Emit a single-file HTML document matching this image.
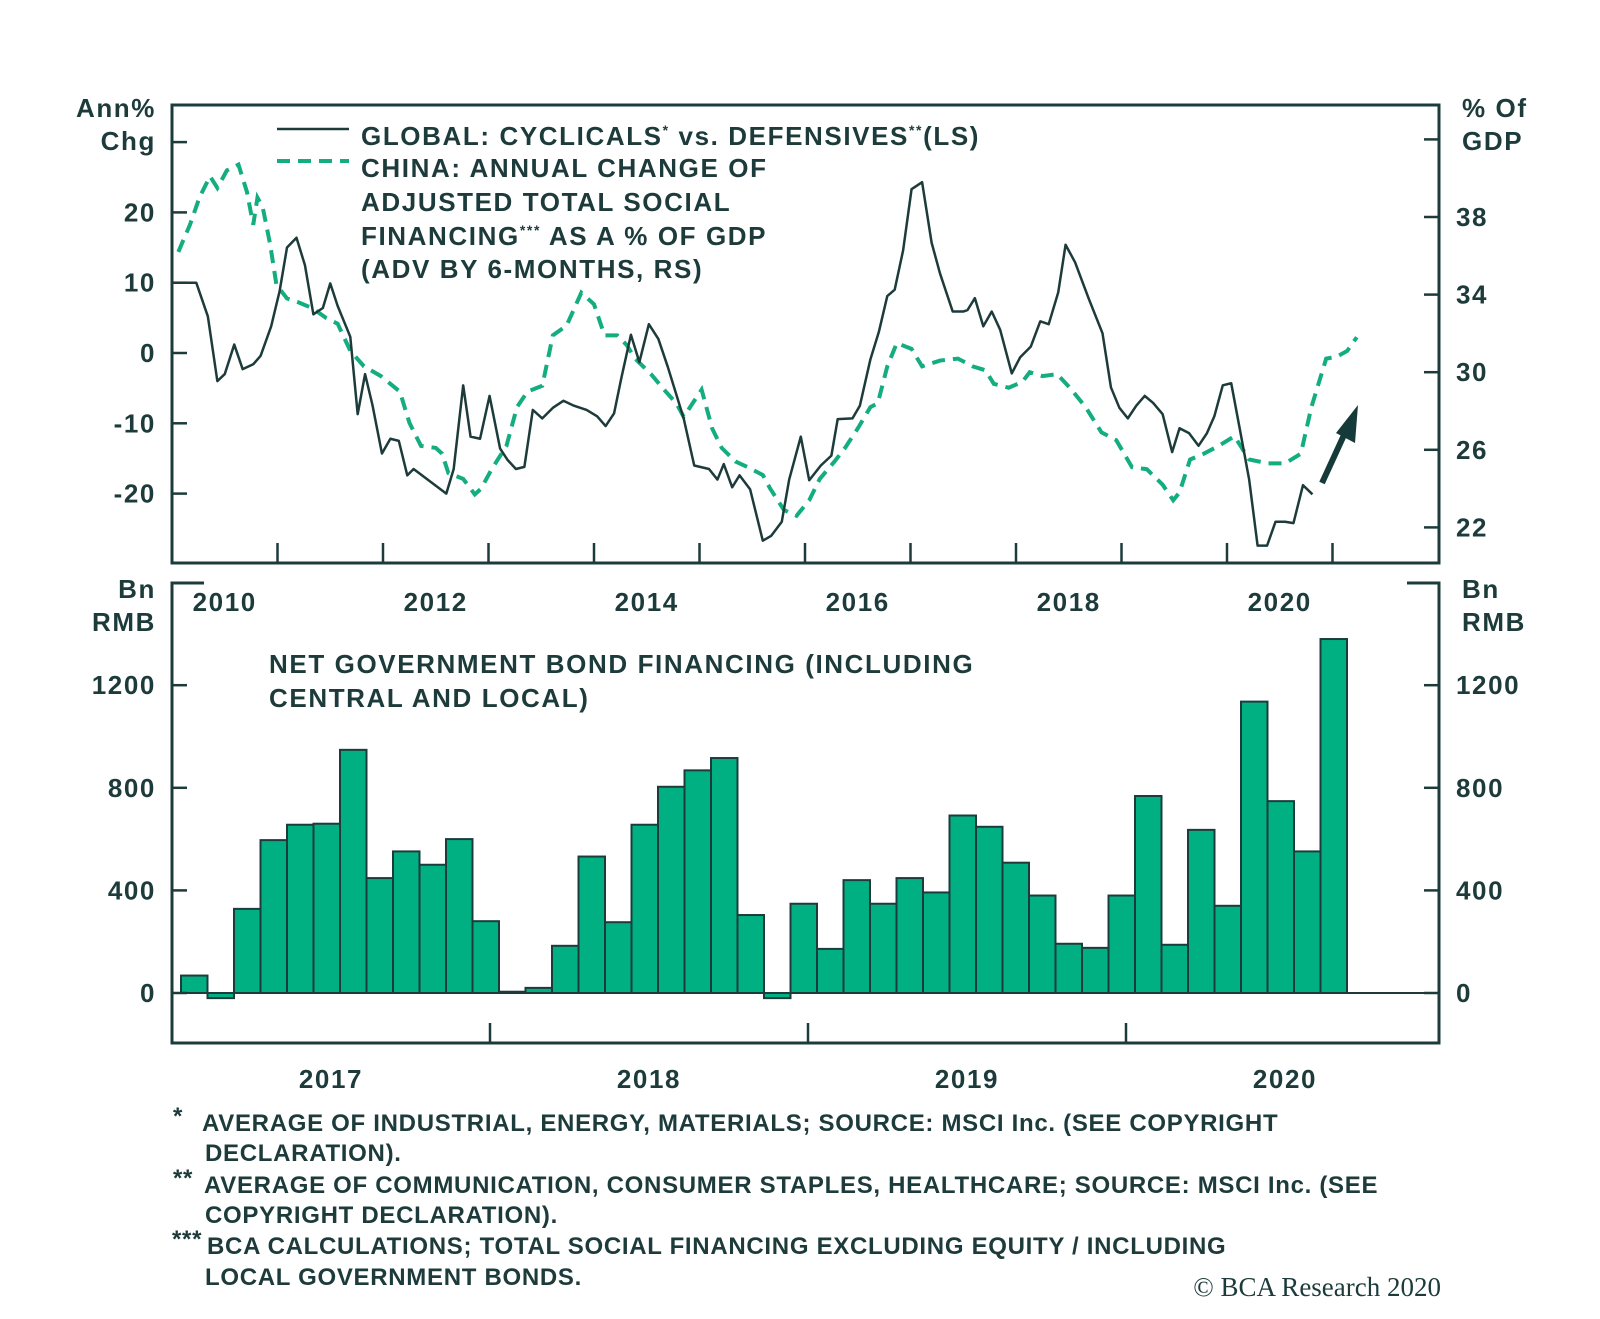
<!DOCTYPE html>
<html><head><meta charset="utf-8">
<style>
html,body{margin:0;padding:0;background:#fff;}
svg{display:block;font-family:"Liberation Sans",sans-serif;}
.lbl{font-weight:bold;fill:#1d3b3b;font-size:26px;letter-spacing:1.6px;}
.foot{font-weight:bold;fill:#1d3b3b;font-size:24px;letter-spacing:0.7px;}
</style></head>
<body>
<svg id="chart" width="1600" height="1319" viewBox="0 0 1600 1319" xmlns="http://www.w3.org/2000/svg">
<g id="topPanel"></g>
<g id="botPanel"></g>
<g>
<line x1="277" y1="129" x2="349" y2="129" stroke="#1d3b3b" stroke-width="2.5"/>
<line x1="277" y1="161" x2="349" y2="161" stroke="#14ad80" stroke-width="4" stroke-dasharray="13,8"/>
<text class="lbl" x="361" y="145">GLOBAL: CYCLICALS<tspan font-size="14" dy="-10">*</tspan><tspan dy="10"> vs. DEFENSIVES</tspan><tspan font-size="14" dy="-10">**</tspan><tspan dy="10">(LS)</tspan></text>
<text class="lbl" x="361" y="177">CHINA: ANNUAL CHANGE OF</text>
<text class="lbl" x="361" y="211">ADJUSTED TOTAL SOCIAL</text>
<text class="lbl" x="361" y="245">FINANCING<tspan font-size="14" dy="-10">***</tspan><tspan dy="10"> AS A % OF GDP</tspan></text>
<text class="lbl" x="361" y="278">(ADV BY 6-MONTHS, RS)</text>
</g>
<text class="lbl" x="156" y="117" text-anchor="end">Ann%</text>
<text class="lbl" x="156" y="150" text-anchor="end">Chg</text>
<text class="lbl" x="1462" y="117">% Of</text>
<text class="lbl" x="1462" y="150">GDP</text>
<text class="lbl" x="156" y="598" text-anchor="end">Bn</text>
<text class="lbl" x="156" y="631" text-anchor="end">RMB</text>
<text class="lbl" x="1462" y="598">Bn</text>
<text class="lbl" x="1462" y="631">RMB</text>
<text class="lbl" x="269" y="673">NET GOVERNMENT BOND FINANCING (INCLUDING</text>
<text class="lbl" x="269" y="707">CENTRAL AND LOCAL)</text>
<path d="M1322,483 L1350,422" stroke="#163a3a" stroke-width="6"/>
<polygon points="1358,405 1336,433 1355,443" fill="#163a3a"/>
<g>
<text class="foot" x="173" y="1124" font-size="14">*</text>
<text class="foot" x="202" y="1131">AVERAGE OF INDUSTRIAL, ENERGY, MATERIALS; SOURCE: MSCI Inc. (SEE COPYRIGHT</text>
<text class="foot" x="205" y="1161">DECLARATION).</text>
<text class="foot" x="173" y="1186" font-size="14">**</text>
<text class="foot" x="204" y="1193">AVERAGE OF COMMUNICATION, CONSUMER STAPLES, HEALTHCARE; SOURCE: MSCI Inc. (SEE</text>
<text class="foot" x="205" y="1223">COPYRIGHT DECLARATION).</text>
<text class="foot" x="172" y="1247" font-size="14">***</text>
<text class="foot" x="207" y="1254">BCA CALCULATIONS; TOTAL SOCIAL FINANCING EXCLUDING EQUITY / INCLUDING</text>
<text class="foot" x="205" y="1285">LOCAL GOVERNMENT BONDS.</text>
</g>
<text x="1441" y="1296" text-anchor="end" font-family="Liberation Serif,serif" font-size="27" fill="#1d3b3b">© BCA Research 2020</text>
</svg>
<script>
const globalDates=[0,.23,.34,.43,.50,.59,.67,.77,.84,.94,1.02,1.09,1.18,1.26,1.34,1.43,1.50,1.57,1.69,1.76,1.83,1.90,1.99,2.07,2.15,2.23,2.29,2.60,2.67,2.76,2.83,2.92,3.01,3.11,3.18,3.26,3.34,3.42,3.51,3.61,3.71,3.81,3.93,4.03,4.11,4.19,4.26,4.35,4.43,4.52,4.61,4.70,4.85,4.95,5.09,5.17,5.23,5.31,5.38,5.48,5.60,5.68,5.78,5.85,5.96,6.04,6.15,6.25,6.31,6.45,6.52,6.62,6.70,6.78,6.85,6.93,7.01,7.11,7.20,7.28,7.40,7.50,7.54,7.61,7.69,7.77,7.85,7.96,8.04,8.14,8.23,8.31,8.40,8.47,8.56,8.69,8.82,8.90,8.98,9.06,9.14,9.22,9.30,9.39,9.48,9.55,9.64,9.73,9.81,9.88,9.96,10.04,10.12,10.21,10.29,10.38,10.46,10.55,10.63,10.72,10.81];
const globalValues=[10,10,5.2,-4,-3,1.2,-2.3,-1.6,-0.4,3.8,8.8,15,16.4,12.5,5.5,6.4,9.9,6.7,2.3,-8.7,-3,-7.4,-14.3,-12.2,-12.5,-17.4,-16.5,-20,-16.5,-4.6,-11.9,-12.2,-6.1,-13.6,-15.2,-16.5,-16.2,-8.1,-9.3,-7.8,-6.8,-7.5,-8.1,-9,-10.4,-8.6,-3.5,2.6,-1.3,4.1,2,-2,-9.3,-16,-16.5,-18,-15.8,-19.1,-17.4,-19.4,-26.7,-26,-24,-18,-11.9,-18.1,-16,-14.6,-9.4,-9.3,-7.5,-0.9,3,8.1,9,14.6,23.3,24.3,15.7,11.3,5.9,5.9,6.1,7.8,3.8,5.9,3.3,-2.9,-0.6,0.9,4.5,4.1,8.6,15.4,12.9,7.7,2.8,-4.9,-7.8,-9.3,-7.5,-6.1,-7.1,-8.7,-14.1,-10.7,-11.4,-13.2,-11.4,-9,-4.6,-4.3,-10.7,-18,-27.4,-27.4,-24,-24,-24.2,-18.8,-20.1];
const chinaDates=[.06,.17,.26,.36,.43,.52,.63,.71,.77,.81,.86,.93,.99,1.09,1.20,1.33,1.46,1.57,1.69,1.82,1.98,2.16,2.25,2.36,2.50,2.56,2.62,2.76,2.87,2.93,3.03,3.17,3.27,3.37,3.51,3.61,3.74,3.88,4.00,4.10,4.22,4.31,4.39,4.54,4.68,4.78,4.85,5.02,5.12,5.21,5.34,5.46,5.60,5.67,5.80,5.92,6.04,6.14,6.28,6.38,6.50,6.62,6.69,6.78,6.87,7.01,7.11,7.28,7.45,7.59,7.71,7.79,7.93,8.06,8.13,8.25,8.39,8.51,8.66,8.81,8.95,9.10,9.24,9.39,9.49,9.55,9.65,9.78,9.92,10.07,10.21,10.39,10.55,10.70,10.80,10.94,11.04,11.14,11.23];
const chinaValues=[36.2,37.6,39,40.1,39.5,40.4,40.7,39.3,37.6,39,38.5,36.6,34.5,33.8,33.6,33.3,32.8,32.5,31.1,30.3,29.8,29,27.4,26.2,26.1,25.8,24.8,24.5,23.7,24,25,26.2,28.2,29,29.3,31.9,32.4,34.1,33.5,31.9,31.9,31.4,30.7,29.9,29,28.4,27.7,29.1,27.1,26.1,25.4,25.1,24.7,24,22.9,22.6,23.4,24.5,25.4,26.1,27.1,28.2,28.4,30.3,31.5,31.2,30.3,30.6,30.7,30.3,30.1,29.4,29.2,29.5,30,29.8,29.9,29.2,28.2,26.9,26.5,25.1,25,24.2,23.4,23.8,25.5,25.8,26.2,26.7,25.5,25.3,25.3,25.8,28.2,30.7,30.8,31.1,31.8];
const leftTicks=[-20,-10,0,10,20,30];
const leftTickLabels=["-20","-10","0","10","20",""];
const rightTicks=[22,26,30,34,38,42];
const rightTickLabels=["22","26","30","34","38",""];
const topYearLabels=["2010","2012","2014","2016","2018","2020"];
const bondValues=[68,-20,328,596,656,660,948,448,552,500,600,280,5,20,184,532,276,656,804,868,916,304,-20,348,172,440,348,448,392,692,648,508,380,192,176,380,768,188,636,340,1136,748,552,1380];
const bondTicks=[0,400,800,1200];
const bottomYearLabels=["2017","2018","2019","2020"];

const NS="http://www.w3.org/2000/svg";
const DARK="#1d3b3b";
function mk(parent,tag,attrs){const e=document.createElementNS(NS,tag);for(const k in attrs)e.setAttribute(k,attrs[k]);parent.appendChild(e);return e;}
const L=172,R=1439,T=105,B=563;
const xTop=yr=>L+yr*105.5;
const yLeft=v=>353-v*7.03;
const yRight=v=>217+(38-v)*19.4;
const topG=document.getElementById('topPanel');
const frame=mk(topG,'rect',{x:L,y:T,width:R-L,height:B-T,fill:'none',stroke:DARK,'stroke-width':3});


leftTicks.forEach((v,i)=>{const y=yLeft(v);
 const t=mk(topG,'line',{x1:L,x2:L+15,y1:y,y2:y,stroke:DARK,'stroke-width':2.5});
 
 
 if(leftTickLabels[i]){const tx=mk(topG,'text',{x:156,y:y+9,'text-anchor':'end',class:'lbl'});tx.textContent=leftTickLabels[i];
 
 }
});
rightTicks.forEach((v,i)=>{const y=yRight(v);if(y<T)return;
 const t=mk(topG,'line',{x1:R-15,x2:R,y1:y,y2:y,stroke:DARK,'stroke-width':2.5});
 
 
 if(rightTickLabels[i]){const tx=mk(topG,'text',{x:1456,y:y+9,class:'lbl'});tx.textContent=rightTickLabels[i];
 
 }
});
for(let k=1;k<12;k++){const x=xTop(k);
 const t=mk(topG,'line',{x1:x,x2:x,y1:B-20,y2:B,stroke:DARK,'stroke-width':2.5});
 
 }
topYearLabels.forEach((s,i)=>{const tx=mk(topG,'text',{x:xTop(i*2+0.5),y:611,'text-anchor':'middle',class:'lbl'});tx.textContent=s;
 
 });
const gp=mk(topG,'polyline',{points:chinaDates.map((d,i)=>xTop(d)+','+yRight(chinaValues[i])).join(' '),fill:'none',stroke:'#14ad80','stroke-width':4,'stroke-dasharray':'13,8'});


const bp=mk(topG,'polyline',{points:globalDates.map((d,i)=>xTop(d)+','+yLeft(globalValues[i])).join(' '),fill:'none',stroke:DARK,'stroke-width':2.5,'stroke-linejoin':'round'});


const botG=document.getElementById('botPanel');
const BT=583,BB=1043;
const yBond=v=>993-v*0.2565;
const bw=26.5;
const xBar=i=>181+i*bw;
const fr=mk(botG,'path',{d:`M${L+32},${BT} H${L} V${BB} H${R} V${BT} H${R-32}`,fill:'none',stroke:DARK,'stroke-width':3});


bondValues.forEach((v,i)=>{const y0=yBond(0),y1=yBond(v);
 const r=mk(botG,'rect',{x:xBar(i),y:Math.min(y0,y1),width:bw,height:Math.abs(y1-y0),fill:'#00b083',stroke:DARK,'stroke-width':2});
 
 });
const zl=mk(botG,'line',{x1:L,x2:R,y1:yBond(0),y2:yBond(0),stroke:DARK,'stroke-width':2});


bondTicks.forEach(v=>{const y=yBond(v);
 const a=mk(botG,'line',{x1:L,x2:L+15,y1:y,y2:y,stroke:DARK,'stroke-width':2.5});
 
 
 const b=mk(botG,'line',{x1:R-15,x2:R,y1:y,y2:y,stroke:DARK,'stroke-width':2.5});
 
 
 const t1=mk(botG,'text',{x:156,y:y+9,'text-anchor':'end',class:'lbl'});t1.textContent=String(v);
 
 
 const t2=mk(botG,'text',{x:1456,y:y+9,class:'lbl'});t2.textContent=String(v);
 
 
});
bottomYearLabels.forEach((s,i)=>{const x0=L+i*318;
 if(i>0){const t=mk(botG,'line',{x1:x0,x2:x0,y1:BB-20,y2:BB,stroke:DARK,'stroke-width':2.5});
 
 }
 const tx=mk(botG,'text',{x:x0+159,y:1088,'text-anchor':'middle',class:'lbl'});tx.textContent=s;
 
 });
</script>
</body></html>
